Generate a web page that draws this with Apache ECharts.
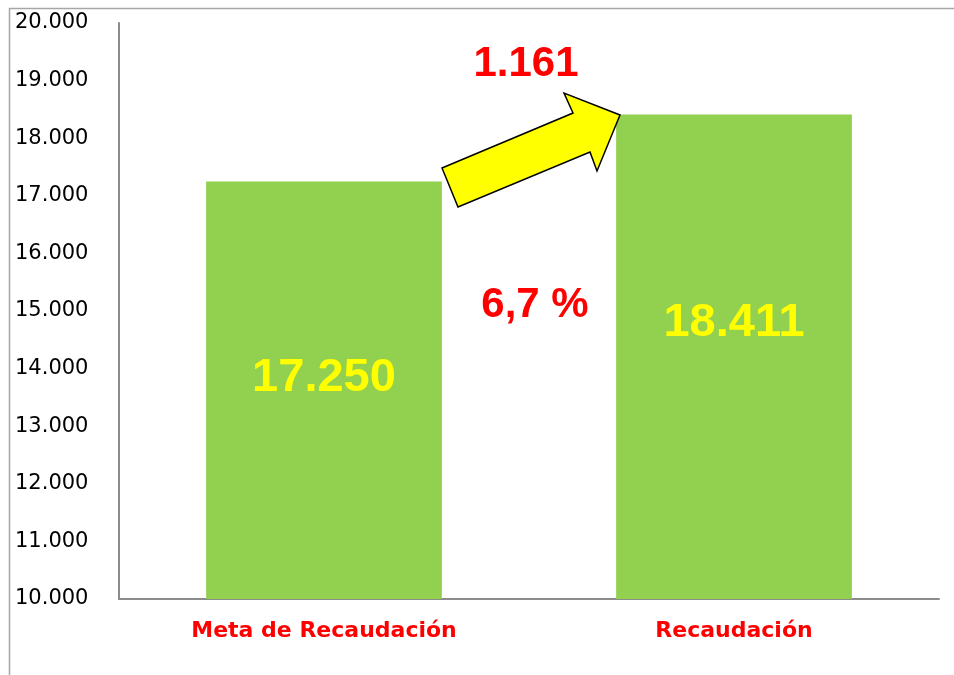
<!DOCTYPE html>
<html>
<head>
<meta charset="utf-8">
<script src="https://cdn.jsdelivr.net/npm/echarts@6/dist/echarts.min.js"></script>
<style>
  html, body { margin: 0; padding: 0; background: #fff; }
  #chart { width: 954px; height: 675px; }
  .warm { position: absolute; left: -999px; font: bold 20px Arial; }
</style>
</head>
<body>
<div id="chart"></div>
<span class="warm">1.161 6,7 % 17.250 18.411</span>
<script>
const categories = ['Meta de Recaudación', 'Recaudación'];
const values = [17250, 18411];
const labelOffsets = [-12, -34];
const diffText = '1.161';
const pctText = '6,7 %';

const bigFont = 'Arial, "Liberation Sans", sans-serif';
const smallFont = '"DejaVu Sans", sans-serif';

function fmt(v) {
  return String(v).replace(/\B(?=(\d{3})+(?!\d))/g, '.');
}

const option = {
  animation: false,
  backgroundColor: '#ffffff',
  grid: { left: 119, right: 15, top: 23, bottom: 76 },
  xAxis: {
    type: 'category',
    data: categories,
    axisLine: { lineStyle: { color: '#8c8c8c', width: 2 } },
    axisTick: { show: false },
    axisLabel: {
      color: '#ff0000', fontWeight: 'bold', fontSize: 22,
      fontFamily: smallFont, margin: 21
    }
  },
  yAxis: {
    type: 'value',
    min: 10000, max: 20000, interval: 1000,
    axisLine: { show: true, lineStyle: { color: '#8c8c8c', width: 2 } },
    axisTick: { show: false },
    splitLine: { show: false },
    axisLabel: {
      color: '#000', fontSize: 21, align: 'left', margin: 104,
      fontFamily: smallFont,
      formatter: fmt
    }
  },
  series: [{
    type: 'bar',
    barWidth: '57.5%',
    itemStyle: { color: '#92d050' },
    data: values.map((v, i) => ({
      value: v,
      label: { offset: [0, labelOffsets[i]] }
    })),
    label: {
      show: true, position: 'inside',
      color: '#ffff00', fontWeight: 'bold', fontSize: 47,
      fontFamily: bigFont,
      formatter: p => fmt(p.value)
    }
  }],
  graphic: [
    {
      type: 'rect', silent: true, z: 0,
      shape: { x: 9.5, y: 8.5, width: 1000, height: 1000 },
      style: { fill: 'none', stroke: '#a6a6a6', lineWidth: 1.5 }
    },
    {
      type: 'polygon', z: 10,
      shape: { points: [[442, 168], [573, 113], [564, 93], [620, 115], [597, 171], [590, 152], [458, 207]] },
      style: { fill: '#ffff00', stroke: '#000', lineWidth: 1.5 }
    },
    {
      type: 'text', z: 10, x: 526, y: 64,
      style: {
        text: diffText, fill: '#ff0000', fontSize: 42, fontWeight: 'bold',
        fontFamily: bigFont,
        textAlign: 'center', textVerticalAlign: 'middle'
      }
    },
    {
      type: 'text', z: 10, x: 535, y: 305,
      style: {
        text: pctText, fill: '#ff0000', fontSize: 42, fontWeight: 'bold',
        fontFamily: bigFont,
        textAlign: 'center', textVerticalAlign: 'middle'
      }
    }
  ]
};

const chart = echarts.init(document.getElementById('chart'));
chart.setOption(option);
document.fonts.ready.then(() => {
  chart.clear();
  chart.setOption(option);
});
</script>
</body>
</html>
